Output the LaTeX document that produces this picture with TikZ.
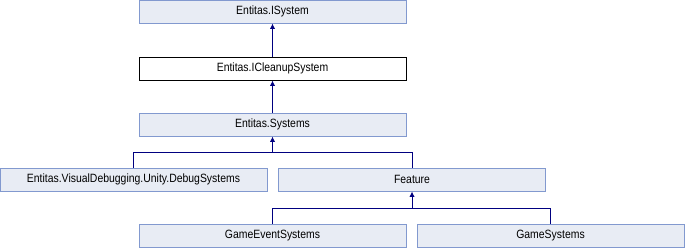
\documentclass[tikz,border=0pt]{standalone}
\usepackage{fontspec}
\setmainfont{Liberation Sans}[FakeStretch=0.87]
\usetikzlibrary{arrows.meta}

\definecolor{clsfill}{HTML}{E8ECF4}
\definecolor{clsline}{HTML}{8299CF}
\definecolor{inhline}{HTML}{000080}

\begin{document}
\begin{tikzpicture}[x=0.75pt, y=-0.75pt, font=\fontsize{9pt}{10pt}\selectfont,
  cls/.style={draw=clsline, fill=clsfill, line width=0.75pt, inner sep=0pt,
    minimum width=200.25pt, minimum height=17.25pt},
  cur/.style={cls, draw=black, fill=white},
  inh/.style={draw=inhline, line width=0.75pt, -{Latex[length=4pt, width=4pt]}},
  bar/.style={draw=inhline, line width=0.75pt}]
  % page frame
  \useasboundingbox (0,0) rectangle (685,248);

  % classes
  \node[cls] (isystem)  at (272.5,11.5)  {Entitas.ISystem};
  \node[cur] (icleanup) at (272.5,68.5)  {Entitas.ICleanupSystem};
  \node[cls] (systems)  at (272.5,124.5) {Entitas.Systems};
  \node[cls] (debugsys) at (133.5,179.5) {Entitas.VisualDebugging.Unity.DebugSystems};
  \node[cls] (feature)  at (412,179.5)   {Feature};
  \node[cls] (gameevt)  at (272.5,235.5) {GameEventSystems};
  \node[cls] (gamesys)  at (550.5,235.5) {GameSystems};

  % inheritance
  \draw[inh] (icleanup.north) -- (isystem.south);
  \draw[inh] (systems.north) -- (icleanup.south);

  \coordinate (fork1) at (272.5,152);
  \draw[bar] (feature.north) |- (fork1);
  \draw[inh] (debugsys.north) |- (fork1) -- (systems.south);

  \coordinate (fork2) at (412,208);
  \draw[bar] (gamesys.north) |- (fork2);
  \draw[inh] (gameevt.north) |- (fork2) -- (feature.south);
\end{tikzpicture}
\end{document}
